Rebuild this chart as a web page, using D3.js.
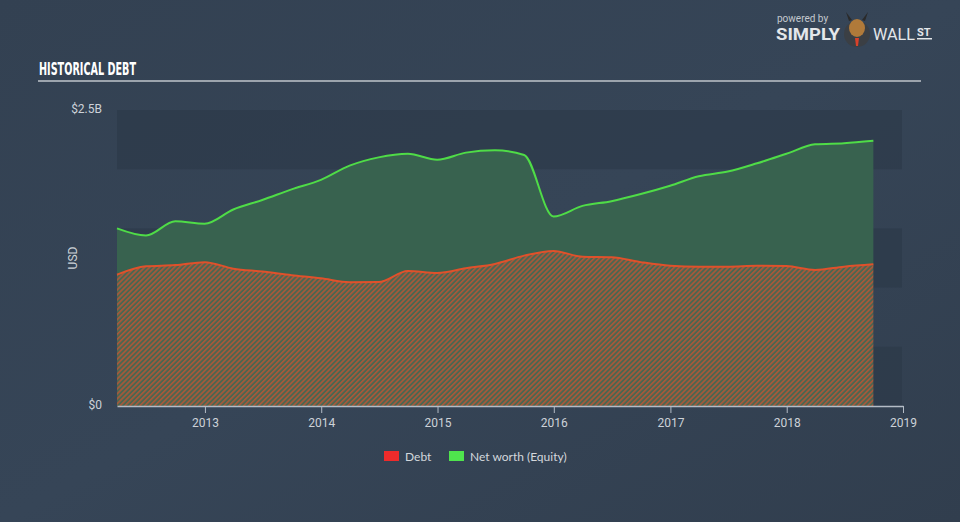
<!DOCTYPE html>
<html><head><meta charset="utf-8">
<script src="https://cdn.jsdelivr.net/npm/d3@7"></script>
<style>html,body{margin:0;padding:0;background:#344354;}svg{display:block;}</style>
</head><body>
<svg id="c" width="960" height="522"></svg>
<script>
// ---- data (USD billions, quarterly) ----
const dates = ["2012-03-31","2012-06-30","2012-09-30","2012-12-31","2013-03-31","2013-06-30","2013-09-30","2013-12-31","2014-03-31","2014-06-30","2014-09-30","2014-12-31","2015-03-31","2015-06-30","2015-09-30","2015-12-31","2016-03-31","2016-06-30","2016-09-30","2016-12-31","2017-03-31","2017-06-30","2017-09-30","2017-12-31","2018-03-31","2018-06-30","2018-09-30"];
const debt = [1.11,1.18,1.19,1.215,1.16,1.135,1.105,1.078,1.045,1.047,1.14,1.123,1.163,1.20,1.27,1.31,1.26,1.256,1.215,1.185,1.177,1.177,1.185,1.182,1.149,1.177,1.197];
const equity = [1.50,1.44,1.56,1.54,1.66,1.74,1.83,1.91,2.03,2.10,2.13,2.08,2.14,2.16,2.12,1.60,1.69,1.73,1.79,1.86,1.94,1.98,2.05,2.13,2.21,2.22,2.24];
const xTicks = ["2013","2014","2015","2016","2017","2018","2019"];
const yTicks = [0, 2.5];
const yTickLabels = ["$0","$2.5B"];
const bandStops = [0,0.5,1,1.5,2,2.5];
const seriesNames = ["Debt","Net worth (Equity)"];

const parse = d3.timeParse("%Y-%m-%d");
const data = dates.map((d,i)=>({date:parse(d), debt:debt[i], equity:equity[i]}));

const svg = d3.select("#c");
const defs = svg.append("defs");
const bg = defs.append("linearGradient").attr("id","bg").attr("x1",0).attr("y1",0).attr("x2",1).attr("y2",1);
bg.append("stop").attr("offset","0%").attr("stop-color","#334152");
bg.append("stop").attr("offset","50%").attr("stop-color","#364557");
bg.append("stop").attr("offset","100%").attr("stop-color","#313e4e");
svg.append("rect").attr("width",960).attr("height",522).attr("fill","url(#bg)");

const pat = defs.append("pattern").attr("id","hatch").attr("patternUnits","userSpaceOnUse")
  .attr("width",3.5).attr("height",3.5).attr("patternTransform","rotate(45)");
pat.append("rect").attr("width",3.5).attr("height",3.5).attr("fill","#4c6650");
pat.append("rect").attr("width",1.6).attr("height",3.5).attr("fill","#a9583a");

const x = d3.scaleTime().domain([parse("2012-03-31"), parse("2019-01-01")]).range([117,903]);
const y = d3.scaleLinear().domain([0,2.5]).range([406,110]);

// bands
for (let i=0;i<bandStops.length-1;i++){
  if (i%2===0) {
    svg.append("rect").attr("x",117).attr("width",785)
      .attr("y",y(bandStops[i+1])).attr("height",y(bandStops[i])-y(bandStops[i+1]))
      .attr("fill","#2c3848").attr("opacity",0.6);
  }
}

const curve = d3.curveMonotoneX;
svg.append("path").datum(data)
  .attr("d", d3.area().x(d=>x(d.date)).y0(d=>y(d.debt)).y1(d=>y(d.equity)).curve(curve))
  .attr("fill","#38624f");
svg.append("path").datum(data)
  .attr("d", d3.area().x(d=>x(d.date)).y0(y(0)).y1(d=>y(d.debt)).curve(curve))
  .attr("fill","url(#hatch)");
svg.append("path").datum(data)
  .attr("d", d3.line().x(d=>x(d.date)).y(d=>y(d.equity)).curve(curve))
  .attr("fill","none").attr("stroke","#4fdc47").attr("stroke-width",2);
svg.append("path").datum(data)
  .attr("d", d3.line().x(d=>x(d.date)).y(d=>y(d.debt)).curve(curve))
  .attr("fill","none").attr("stroke","#e0512b").attr("stroke-width",2);

// x axis
const xAxis = d3.axisBottom(x).tickValues(xTicks.map(t=>parse(t+"-01-01"))).tickFormat(d3.timeFormat("%Y")).tickSize(7).tickSizeOuter(0);
const gx = svg.append("g").attr("transform","translate(0,406)").call(xAxis);
gx.select(".domain").attr("stroke","#b4bcc6").attr("stroke-width",1.5);
gx.selectAll(".tick line").attr("stroke","#b4bcc6");
gx.selectAll(".tick text").attr("fill","#cdd2d8").attr("font-family","Roboto, sans-serif").attr("font-size",12).attr("dy","0.9em");

// y labels
svg.selectAll(".ylab").data(yTicks).enter().append("text")
  .attr("x",102).attr("y",d=>y(d)+3).attr("text-anchor","end")
  .attr("fill","#cdd2d8").attr("font-family","Roboto, sans-serif").attr("font-size",12)
  .text((d,i)=>yTickLabels[i]);
svg.append("text").attr("transform","translate(77,258) rotate(-90)").attr("text-anchor","middle")
  .attr("fill","#cdd2d8").attr("font-family","Roboto, sans-serif").attr("font-size",12).text("USD");

// title
svg.append("text").attr("x",39).attr("y",75).attr("fill","#ffffff")
  .attr("font-family","'Liberation Sans Narrow', 'DejaVu Sans Condensed', sans-serif").attr("font-weight","bold")
  .attr("font-size",18).attr("textLength",97).attr("lengthAdjust","spacingAndGlyphs").text("HISTORICAL DEBT");
svg.append("rect").attr("x",38).attr("y",80).attr("width",883).attr("height",2).attr("fill","#9ca4ad");

// legend
const legColors = ["#ee2b2b","#4fe44d"];
const legX = [384, 449];
seriesNames.forEach((n,i)=>{
  svg.append("rect").attr("x",legX[i]).attr("y",451).attr("width",15).attr("height",10).attr("fill",legColors[i]);
  svg.append("text").attr("x",legX[i]+21).attr("y",460.5).attr("fill","#d3d7dc")
    .attr("font-family","Lato, 'Open Sans', sans-serif").attr("font-size",12).text(n);
});

// logo
svg.append("text").attr("x",777).attr("y",22).attr("fill","#c4c9cf").attr("font-family","Roboto, sans-serif").attr("font-size",10).text("powered by");
svg.append("text").attr("x",776).attr("y",40).attr("fill","#e4e7ea").attr("font-family","Roboto, sans-serif").attr("font-weight","bold").attr("font-size",16).attr("textLength",64).attr("lengthAdjust","spacingAndGlyphs").text("SIMPLY");
const lg = svg.append("g").attr("transform","translate(857,32)");
lg.append("circle").attr("r",13).attr("cy",2).attr("fill","#3b3f44");
lg.append("ellipse").attr("rx",8).attr("ry",9).attr("cy",-4).attr("fill","#b07a3a");
lg.append("path").attr("d","M-8,-11 L-11,-20 L-5,-12 Z M8,-11 L11,-20 L5,-12 Z").attr("fill","#2a2a2a");
lg.append("path").attr("d","M-2,6 L2,6 L1,14 L-1,14 Z").attr("fill","#d9412a");
svg.append("text").attr("x",873).attr("y",40).attr("fill","#e4e7ea").attr("font-family","Roboto, sans-serif").attr("font-size",16).attr("textLength",42).attr("lengthAdjust","spacingAndGlyphs").text("WALL");
svg.append("text").attr("x",917).attr("y",36).attr("fill","#e4e7ea").attr("font-family","Roboto, sans-serif").attr("font-weight","bold").attr("font-size",11).text("ST");
svg.append("rect").attr("x",917).attr("y",38).attr("width",15).attr("height",1.5).attr("fill","#e4e7ea");
</script>
</body></html>
